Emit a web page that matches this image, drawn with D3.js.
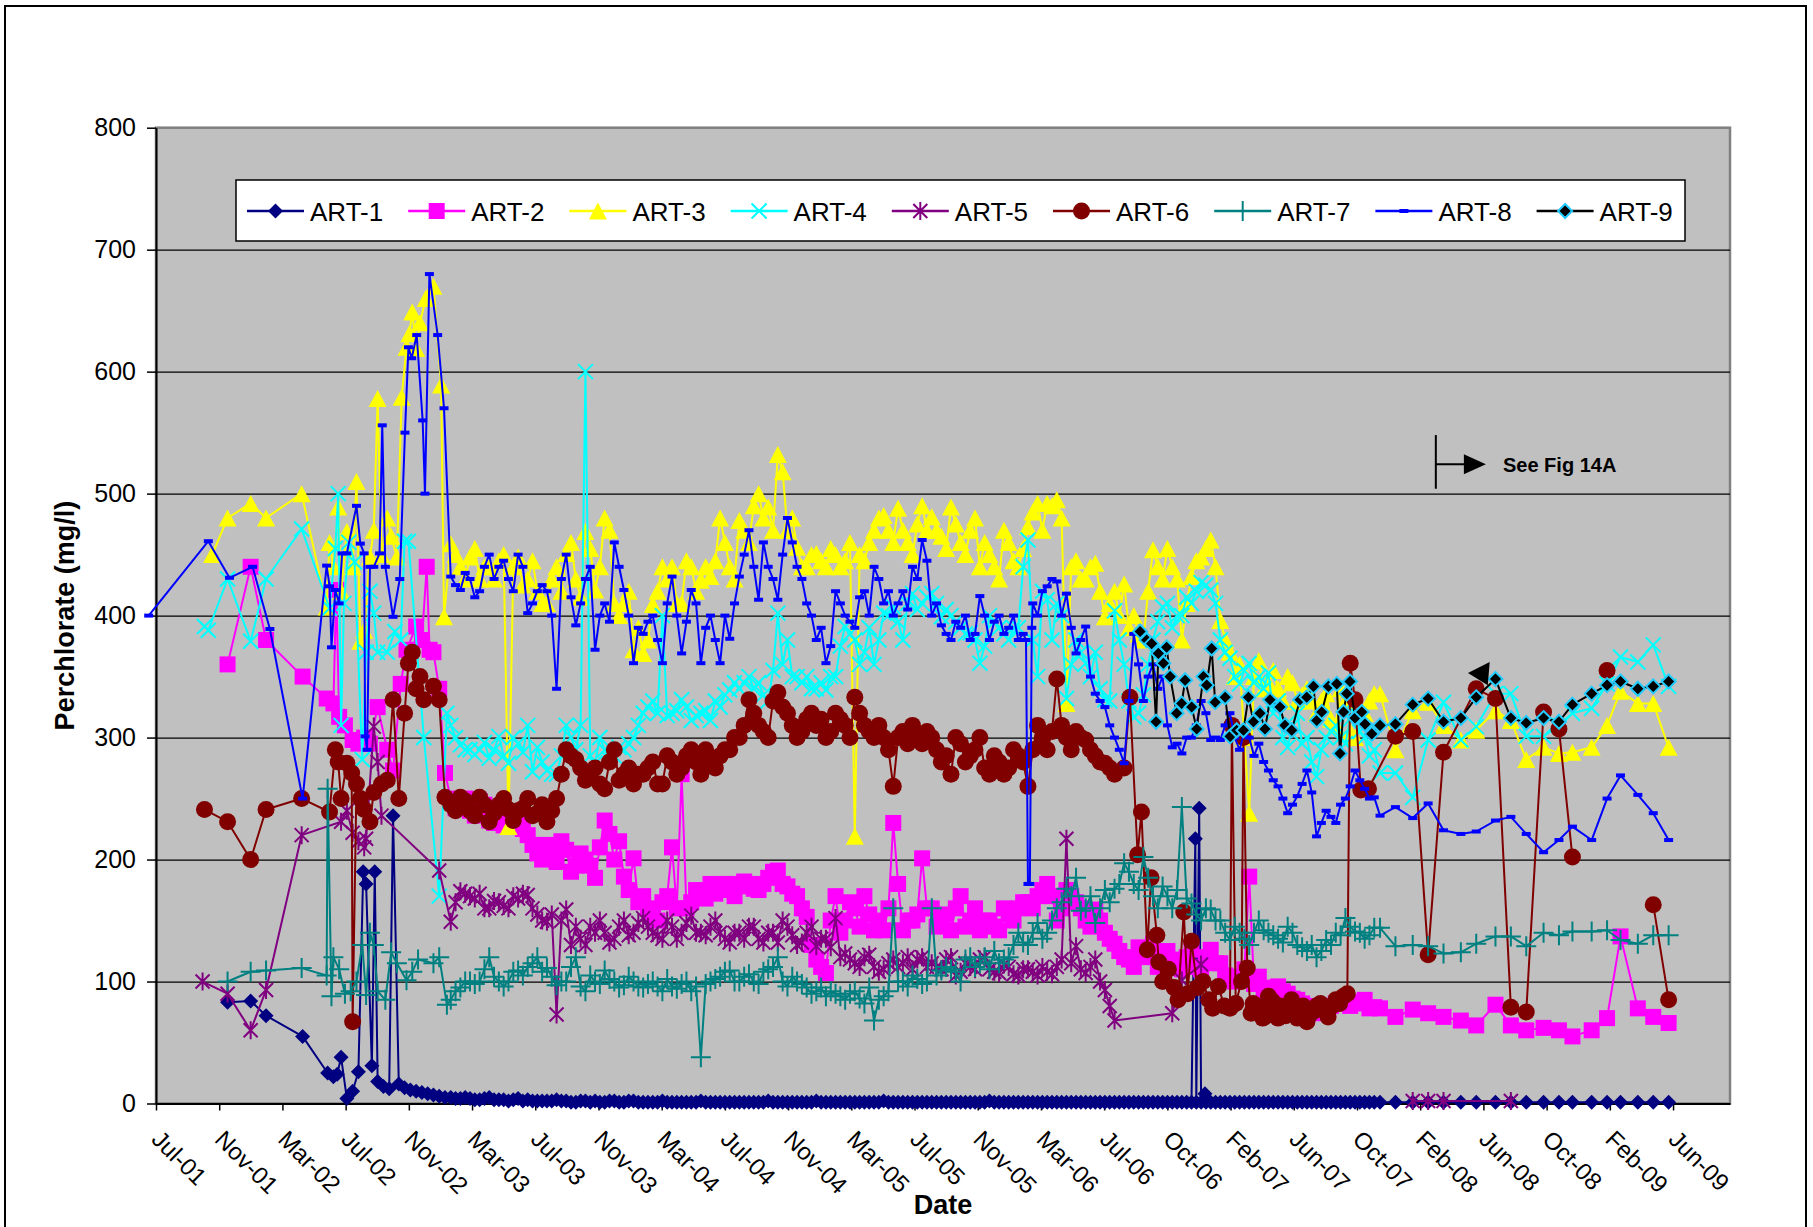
<!DOCTYPE html>
<html><head><meta charset="utf-8">
<script src="https://cdn.jsdelivr.net/npm/d3@7"></script>
<style>body{margin:0;background:#fff}svg{display:block}text{font-family:"Liberation Sans",Arial,sans-serif}</style>
</head><body>
<svg id="chart" width="1813" height="1227"></svg>
<script>
// ---------------- DATA ----------------
const seriesNames = ["ART-1","ART-2","ART-3","ART-4","ART-5","ART-6","ART-7","ART-8","ART-9"];
const xTickLabels = ["Jul-01","Nov-01","Mar-02","Jul-02","Nov-02","Mar-03","Jul-03","Nov-03","Mar-04","Jul-04","Nov-04","Mar-05","Jul-05","Nov-05","Mar-06","Jul-06","Oct-06","Feb-07","Jun-07","Oct-07","Feb-08","Jun-08","Oct-08","Feb-09","Jun-09"];
const yTickValues = [0,100,200,300,400,500,600,700,800];
const axisStartYear = 2001.568;   // axis minimum (late Jul 2001), decimal year
const axisEndYear = 2009.749;
const tickStepDays = 120;

// sampling dates of the dense monitoring period (decimal years), two interleaved rounds
const denseDates = [
2003.10,2003.15,2003.20,2003.25,2003.30,2003.35,2003.40,2003.45,2003.50,2003.55,
2003.60,2003.65,2003.70,2003.75,2003.80,2003.85,2003.90,2003.95,2004.00,2004.05,
2004.10,2004.15,2004.20,2004.25,2004.30,2004.35,2004.40,2004.45,2004.50,2004.55,
2004.60,2004.65,2004.70,2004.75,2004.80,2004.85,2004.90,2004.95,2005.00,2005.05,
2005.10,2005.15,2005.20,2005.25,2005.30,2005.35,2005.40,2005.45,2005.50,2005.55,
2005.60,2005.65,2005.70,2005.75,2005.80,2005.85,2005.90,2005.95,2006.00,2006.05,
2006.10,2006.15,2006.20,2006.25,2006.30,2006.35,2006.40,2006.45,2006.50,2006.55,
2006.60,2006.65,2006.70,2006.75,2006.80,2006.85,2006.90,2006.95,2007.00,2007.05,
2007.10,2007.15,2007.20,2007.25,2007.30,2007.35,2007.40,2007.45,2007.50,2007.55,
2007.60,2007.65,2007.70,2007.75,2007.80,2007.85,2007.90];
const denseDates2 = [
2003.125,2003.175,2003.225,2003.275,2003.325,2003.375,2003.425,2003.475,2003.525,2003.575,
2003.625,2003.675,2003.725,2003.775,2003.825,2003.875,2003.925,2003.975,2004.025,2004.075,
2004.125,2004.175,2004.225,2004.275,2004.325,2004.375,2004.425,2004.475,2004.525,2004.575,
2004.625,2004.675,2004.725,2004.775,2004.825,2004.875,2004.925,2004.975,2005.025,2005.075,
2005.125,2005.175,2005.225,2005.275,2005.325,2005.375,2005.425,2005.475,2005.525,2005.575,
2005.625,2005.675,2005.725,2005.775,2005.825,2005.875,2005.925,2005.975,2006.025,2006.075,
2006.125,2006.175,2006.225,2006.275,2006.325,2006.375,2006.425,2006.475,2006.525,2006.575,
2006.625,2006.675,2006.725,2006.775,2006.825,2006.875,2006.925,2006.975,2007.025,2007.075,
2007.125,2007.175,2007.225,2007.275,2007.325,2007.375,2007.425,2007.475,2007.525,2007.575,
2007.625,2007.675,2007.725,2007.775,2007.825,2007.875];
// later, monthly sampling dates
const lateDates = [2007.93,2008.01,2008.10,2008.18,2008.26,2008.35,2008.43,2008.53,2008.61,2008.69,2008.78,2008.86,2008.93,2009.03,2009.11,2009.18,2009.27,2009.35,2009.43];

// ART-1
const art1Early = [[2001.94,83],[2002.06,84],[2002.14,72],[2002.33,55],[2002.46,25],[2002.49,22],[2002.51,24],[2002.53,38],[2002.56,4],[2002.59,10],[2002.62,26],[2002.645,190],[2002.66,180],[2002.69,31],[2002.705,190],[2002.72,18],[2002.75,14],[2002.78,12],[2002.80,236],[2002.83,16],[2002.86,13],[2002.89,11],[2002.92,10],[2002.95,9],[2002.98,8],[2003.01,7],[2003.04,6],[2003.07,5]];
const art1Dense = [5,4,4,3,5,3,2,4,3,2, 2,3,2,1,2,2,1,2,1,2, 1,1,2,1,1,1,2,1,1,1, 1,1,1,2,1,1,1,1,2,1, 1,1,1,1,1,2,1,1,1,1, 1,1,1,1,1,1,2,1,1,1, 1,1,1,1,1,1,1,1,1,1, 1,1,1,1,1,1,1,1,1,1, 1,1,1,1,1,1,1,1,1,1, 1,1,1,1,1,1,1];
const art1Dense2 = [4,5,3,4,3,3,3,2,2,2, 2,2,1,2,1,1,2,1,2,1, 1,1,1,1,1,1,1,1,1,1, 1,1,1,1,1,1,1,1,1,1, 1,1,1,1,1,1,1,1,1,1, 1,1,1,1,1,1,1,1,1,1, 1,1,1,1,1,1,1,1,1,1, 1,1,1,1,1,1,1,1,1,1, 1,1,1,1,1,1,1,1,1,1, 1,1,1,1,1,1];
const art1Extra = [[2006.97,217],[2006.99,242],[2007.02,8]];
const art1Late = [1,1,1,1,1,1,1,1,1,1,1,1,1,1,1,1,1,1,1];

// ART-2
const art2Early = [[2001.94,360],[2002.06,440],[2002.14,380],[2002.33,350],[2002.455,332],[2002.49,328],[2002.505,421],[2002.52,317],[2002.55,310],[2002.59,298],[2002.62,295],[2002.65,300],[2002.68,295],[2002.72,325],[2002.77,290],[2002.80,273],[2002.84,344],[2002.87,372],[2002.92,391],[2002.95,380],[2002.975,440],[2002.99,372],[2003.01,370],[2003.04,340],[2003.07,271]];
const art2Dense = [250,245,240,248,232,230,232,238,220,205, 212,198,208,195,200,185,232,200,186,201, 170,153,165,210,270,165,170,180,175,180, 178,180,175,185,191,178,170,153,118,107, 170,150,160,170,142,142,230,142,150,201, 160,150,142,170,150,142,150,142,155,160, 165,170,180,150,175,165,150,159,140,131, 120,112,125,131,120,115,110,126,110,126, 115,101,104,186,104,95,96,90,85,80, 74,78,82,85,82,85,79];
const art2Dense2 = [242,250,236,245,230,228,236,225,212,200, 205,215,190,205,195,210,221,215,175,165, 160,150,170,160,160,175,168,172,180,170, 182,176,180,190,180,172,160,130,112,150, 140,165,145,155,150,160,180,150,155,160, 145,155,160,145,160,150,145,160,150,165, 160,175,170,160,170,160,145,150,135,125, 118,128,120,112,125,118,120,112,120,115, 105,100,110,98,92,90,92,86,82,78, 76,80,84,80,83,78];
const art2Extra = [];
const art2Late = [78,71,77,74,71,68,64,81,64,60,62,60,55,60,70,137,78,71,66];

// ART-3
const art3Early = [[2001.86,450],[2001.94,480],[2002.06,492],[2002.14,480],[2002.325,500],[2002.455,407],[2002.47,460],[2002.49,440],[2002.515,489],[2002.53,420],[2002.56,469],[2002.59,440],[2002.61,510],[2002.63,379],[2002.65,388],[2002.68,448],[2002.70,470],[2002.72,578],[2002.74,450],[2002.77,480],[2002.79,465],[2002.82,448],[2002.845,579],[2002.87,620],[2002.885,631],[2002.90,649],[2002.92,619],[2002.94,640],[2002.97,660],[2003.01,670],[2003.05,589],[2003.065,399]];
const art3Dense = [459,440,448,430,440,445,227,448,430,420, 410,440,451,430,469,421,480,410,410,372, 369,409,440,440,410,440,429,432,480,440, 478,460,500,489,532,470,456,440,451,440, 450,445,219,445,470,482,460,470,450,490, 481,465,489,460,470,440,450,430,460,440, 473,492,492,495,328,445,430,443,399,420, 426,400,380,454,430,440,380,432,448,462, 396,370,360,238,363,345,340,350,330,340, 320,336,310,330,300,320,336];
const art3Dense2 = [450,430,455,440,430,450,440,425,445,410, 430,420,460,415,455,440,470,400,420,390, 380,420,430,410,445,420,440,445,460,430, 470,490,480,470,518,480,440,450,445,455, 440,460,450,460,480,470,488,460,475,470, 470,455,475,450,480,460,440,470,445,455, 485,470,490,480,440,430,440,420,410,400, 390,385,420,440,455,430,410,445,455,440, 380,350,300,350,340,355,330,345,335,330, 330,315,340,305,320,330];
const art3Extra = [];
const art3Late = [336,290,322,329,310,298,306,322,314,282,292,287,288,292,310,338,328,328,292];

// ART-4
const art4Early = [[2001.82,391],[2001.84,388],[2001.94,430],[2002.06,379],[2002.14,430],[2002.325,471],[2002.47,406],[2002.50,455],[2002.515,500],[2002.53,310],[2002.545,410],[2002.57,460],[2002.60,444],[2002.64,282],[2002.66,370],[2002.68,420],[2002.70,402],[2002.72,370],[2002.77,370],[2002.81,387],[2002.84,380],[2002.86,461],[2002.88,461],[2002.96,300],[2003.04,170],[2003.08,320]];
const art4Dense = [310,294,290,290,283,301,279,295,310,292, 273,270,310,290,600,279,290,285,290,300, 320,330,400,320,331,314,320,314,325,339, 340,350,345,330,402,380,350,350,340,339, 350,391,380,370,360,402,407,380,418,410, 418,399,400,390,386,361,400,390,380,390, 462,350,413,410,332,380,361,370,331,404, 360,317,335,380,407,390,400,410,427,421, 380,365,344,361,350,353,330,292,320,300, 268,300,310,295,320,300,290];
const art4Dense2 = [300,290,286,296,290,285,300,288,272,280, 270,285,300,310,285,300,282,292,295,310, 325,320,318,322,325,318,322,330,335,345, 345,340,335,355,360,350,345,340,345,350, 375,385,360,390,380,400,395,410,405,415, 410,405,395,385,380,375,395,385,390,440, 380,420,380,400,360,370,350,340,330,380, 330,320,360,395,410,400,415,420,425,410, 370,350,355,345,340,320,300,310,295,280, 290,305,300,315,305,285];
const art4Extra = [];
const art4Late = [271,271,251,298,329,298,309,336,336,301,301,310,320,324,344,366,362,376,342];

// ART-5
const art5Early = [[2001.81,100],[2001.94,90],[2002.06,60],[2002.14,93],[2002.325,220],[2002.53,231],[2002.56,240],[2002.59,222],[2002.62,215],[2002.65,210],[2002.66,217],[2002.70,309],[2002.72,280],[2002.74,236],[2003.04,191]];
const art5Dense = [149,174,170,172,160,165,160,168,171,155, 149,73,159,145,130,140,140,135,150,140, 152,140,135,145,140,154,140,145,140,132, 140,145,135,140,132,145,130,140,129,135, 152,123,115,120,112,110,118,115,110,120, 115,110,120,108,112,118,110,107,112,105, 110,105,108,112,217,129,107,118,93,68, null,null,null,null,null,74,101,null,114,null, null,null,null,null,null,null,null,null,null,null, null,null,null,null,null,null,null];
const art5Dense2 = [165,172,168,160,166,162,170,172,160,150, 155,150,130,135,145,150,132,145,138,148, 145,138,150,135,148,140,138,150,135,140, 135,145,132,140,150,138,132,145,135,128, 120,118,112,122,108,115,112,120,118,112, 112,118,105,115,110,120,108,114,106,110, 108,112,106,118,115,110,112,100,80,null, null,null,null,null,null,null,null,null,null,null, null,null,null,null,null,null,null,null,null,null, null,null,null,null,null,null];
const art5Extra = [];
const art5Late = [null,null,2,2,2,null,null,null,2,null,null,null,null,null,null,null,null,null,null];
const art5Breaks = [2007.5];

// ART-6
const art6Early = [[2001.82,241],[2001.94,231],[2002.06,200],[2002.14,241],[2002.325,250],[2002.47,239],[2002.50,290],[2002.515,280],[2002.53,250],[2002.56,279],[2002.585,271],[2002.59,67],[2002.61,262],[2002.63,250],[2002.65,241],[2002.68,231],[2002.70,255],[2002.74,262],[2002.77,265],[2002.80,331],[2002.83,250],[2002.86,320],[2002.88,361],[2002.90,370],[2002.92,340],[2002.94,350],[2002.96,331],[2003.01,342],[2003.04,331],[2003.07,251]];
const art6Dense = [245,251,240,251,231,245,241,240,250,238, 231,250,290,282,265,275,258,290,270,262, 270,280,262,280,275,290,270,280,285,290, 300,331,310,300,337,320,300,315,310,300, 320,310,333,310,300,300,260,305,310,295, 300,280,270,295,285,300,270,280,275,285, 260,310,290,348,300,305,298,285,279,270, null,null,null,null,null,null,null,null,null,null, null,null,null,null,null,null,null,null,null,null, null,null,null,null,null,null,null];
const art6Dense2 = [240,248,236,245,238,250,232,242,236,245, 240,270,285,275,270,262,280,265,275,270, 275,262,285,270,285,280,290,275,290,300, 310,320,305,330,325,310,305,320,315,305, 315,300,320,305,310,290,300,295,300,305, 290,285,300,280,290,275,285,270,290,280, 290,300,305,310,290,300,290,280,275,null, null,null,null,null,null,null,null,null,null,null, null,null,null,null,null,null,null,null,null,null, null,null,null,null,null,null];
const art6Extra = [[2006.60,275],[2006.63,333],[2006.67,204],[2006.69,239],[2006.72,126],[2006.74,185],[2006.77,138],[2006.78,116],[2006.80,100],[2006.83,110],[2006.86,95],[2006.88,85],[2006.91,157],[2006.93,90],[2006.95,133],[2006.98,95],[2007.01,100],[2007.04,85],[2007.06,78],[2007.09,96],[2007.12,80],[2007.15,78],[2007.16,310],[2007.18,82],[2007.21,100],[2007.22,300],[2007.24,111],[2007.26,74],[2007.27,82],[2007.29,80],[2007.31,76],[2007.32,70],[2007.34,72],[2007.35,88],[2007.37,84],[2007.38,75],[2007.40,70],[2007.41,80],[2007.43,78],[2007.44,72],[2007.46,74],[2007.47,85],[2007.49,80],[2007.50,70],[2007.52,76],[2007.53,80],[2007.55,67],[2007.56,72],[2007.58,75],[2007.60,80],[2007.62,82],[2007.64,76],[2007.66,71],[2007.68,80],[2007.70,85],[2007.72,82],[2007.74,88],[2007.76,90],[2007.775,361],[2007.80,331],[2007.83,257],[2007.87,258]];
const art6Late = [null,301,305,122,288,null,340,332,79,75,321,307,202,null,355,null,null,163,85];
const art6Breaks = [2009.0,2009.25];

// ART-7
const art7Early = [[2001.94,100],[2002.06,108],[2002.14,109],[2002.325,111],[2002.455,105],[2002.46,258],[2002.48,88],[2002.49,120],[2002.52,110],[2002.55,90],[2002.58,92],[2002.61,100],[2002.64,130],[2002.66,89],[2002.68,140],[2002.70,130],[2002.72,92],[2002.76,85],[2002.79,124],[2002.82,115],[2002.87,101],[2002.90,108],[2002.93,118],[2003.01,115],[2003.04,120],[2003.08,81]];
const art7Dense = [85,95,100,100,120,100,100,109,112,120, 111,97,100,120,92,100,109,100,97,100, 95,100,92,96,98,92,38,100,104,109, 100,106,98,110,120,96,100,95,92,88, 90,85,92,82,68,88,160,100,105,98, 160,109,110,100,120,115,110,115,120,140, 130,148,140,160,176,185,160,148,175,176, 197,180,202,170,178,160,243,164,150,159, 150,134,140,130,150,140,135,145,130,125, 120,134,140,152,141,135,144];
const art7Dense2 = [92,100,98,110,104,96,108,105,115,108, 104,100,112,96,105,98,102,95,104,96, 98,96,102,94,100,96,98,102,108,100, 104,100,108,112,100,104,98,90,95,92, 88,90,86,95,85,92,100,96,102,100, 105,112,108,118,112,120,125,118,130,132, 140,135,150,165,170,158,170,160,165,180, 190,175,185,160,170,175,168,155,160,150, 140,145,135,140,142,138,132,140,128,130, 125,130,138,145,140,138];
const art7Extra = [];
const art7Late = [144,129,130,129,123,124,131,137,137,129,140,138,141,141,142,134,131,138,138];

// ART-8
const art8Early = [[2001.53,400],[2001.84,461],[2001.95,431],[2002.07,440],[2002.16,389],[2002.33,250],[2002.455,441],[2002.47,424],[2002.48,374],[2002.50,421],[2002.52,410],[2002.535,451],[2002.56,451],[2002.61,490],[2002.63,459],[2002.65,451],[2002.655,301],[2002.665,290],[2002.68,440],[2002.70,440],[2002.73,451],[2002.744,556],[2002.76,440],[2002.80,399],[2002.835,430],[2002.862,550],[2002.88,620],[2002.897,611],[2002.923,630],[2002.954,560],[2002.966,500],[2002.989,680],[2003.032,630],[2003.065,570]];
const art8Dense = [432,421,430,420,450,440,430,450,402,420, 420,340,450,392,430,372,410,460,421,361, 385,400,361,432,369,421,361,400,361,381, 432,470,413,440,413,480,440,410,380,361, 420,400,390,420,440,410,400,420,440,462, 400,392,380,390,380,416,380,400,390,380, null,400,424,428,418,369,391,336,325,300, 279,385,330,360,350,292,287,300,330,298, 298,320,290,300,295,273,260,238,252,273, 219,240,230,250,273,258,251];
const art8Dense2 = [425,435,415,440,430,445,420,440,410,425, 400,430,415,410,440,400,395,440,400,390, 395,380,410,400,395,410,390,380,400,410, 450,440,460,430,450,460,430,400,390,375, 410,395,415,400,430,420,410,405,430,445, 410,385,395,400,385,400,395,385,400,385, 410,420,430,400,390,380,350,330,310,290, 330,360,350,340,310,295,300,310,320,300, 310,300,305,285,280,265,250,245,262,255, 230,235,245,260,265,250];
const art8Extra = [[2006.09,380],[2006.10,180],[2006.11,180],[2006.12,390]];
const art8Late = [236,243,234,246,224,221,223,232,235,221,206,216,227,216,250,269,253,238,216];

// ART-9
const art9Early = [[2006.683,387],[2006.717,380],[2006.743,377],[2006.766,313],[2006.778,369],[2006.804,361],[2006.821,374],[2006.839,350],[2006.873,320],[2006.899,328],[2006.917,347],[2006.951,325],[2006.977,307],[2007.012,350],[2007.029,343],[2007.055,373],[2007.073,329],[2007.125,333],[2007.151,301],[2007.185,306],[2007.22,306],[2007.246,333],[2007.272,313],[2007.306,320],[2007.332,307],[2007.358,331],[2007.41,325],[2007.436,310],[2007.471,306],[2007.514,331],[2007.549,333],[2007.584,342],[2007.601,314],[2007.627,321],[2007.662,342],[2007.705,344],[2007.722,287],[2007.74,321],[2007.757,336],[2007.774,346],[2007.80,316],[2007.835,321],[2007.852,311],[2007.887,303],[2007.93,310]];
const art9Dense = [];
const art9Dense2 = [];
const art9Extra = [];
const art9Late = [null,311,327,332,313,316,333,348,316,312,316,313,327,336,343,346,340,342,346];

// annotation ("See Fig 14A" marker) in data units
const annoText = "See Fig 14A";
const annoLineYear = 2008.22, annoLineLow = 504, annoLineHigh = 548, annoArrowValue = 524, annoArrowEnd = 2008.48;
const annoTextYear = 2008.569, annoTextValue = 518;
const leftArrow = [[2008.387,353],[2008.50,362],[2008.49,343]];

// ---------------- BUILD ----------------
function build(early, dense, dense2, extra, late){
  const pts = [];
  early.forEach(p => pts.push([p[0], p[1]]));
  dense.forEach((v,i) => { if (v != null) pts.push([denseDates[i], v]); });
  dense2.forEach((v,i) => { if (v != null) pts.push([denseDates2[i], v]); });
  extra.forEach(p => pts.push([p[0], p[1]]));
  late.forEach((v,i) => { if (v != null) pts.push([lateDates[i], v]); });
  pts.sort((a,b) => a[0]-b[0]);
  return pts;
}
function segments(pts, breaks){
  if (!breaks || !breaks.length) return [pts];
  const segs = [[]];
  pts.forEach((p,i) => {
    if (i > 0 && breaks.some(b => b > pts[i-1][0] && b < p[0])) segs.push([]);
    segs[segs.length-1].push(p);
  });
  return segs;
}
const raw = [
  build(art1Early, art1Dense, art1Dense2, art1Extra, art1Late),
  build(art2Early, art2Dense, art2Dense2, art2Extra, art2Late),
  build(art3Early, art3Dense, art3Dense2, art3Extra, art3Late),
  build(art4Early, art4Dense, art4Dense2, art4Extra, art4Late),
  build(art5Early, art5Dense, art5Dense2, art5Extra, art5Late),
  build(art6Early, art6Dense, art6Dense2, art6Extra, art6Late),
  build(art7Early, art7Dense, art7Dense2, art7Extra, art7Late),
  build(art8Early, art8Dense, art8Dense2, art8Extra, art8Late),
  build(art9Early, art9Dense, art9Dense2, art9Extra, art9Late)
];
const breaksBySeries = [null,null,null,null,art5Breaks,art6Breaks,null,null,null];

// ---------------- STYLE ----------------
const style = [
  {line:"#000080", marker:"diamond", fill:"#000080", stroke:"none"},
  {line:"#FF00FF", marker:"square", fill:"#FF00FF", stroke:"none"},
  {line:"#FFFF00", marker:"triangle", fill:"#FFFF00", stroke:"none"},
  {line:"#00FFFF", marker:"x", fill:"none", stroke:"#00FFFF"},
  {line:"#800080", marker:"star", fill:"none", stroke:"#800080"},
  {line:"#800000", marker:"circle", fill:"#800000", stroke:"none"},
  {line:"#008080", marker:"plus", fill:"none", stroke:"#008080"},
  {line:"#0000FF", marker:"dash", fill:"#0000FF", stroke:"none"},
  {line:"#000000", marker:"diamond9", fill:"#000000", stroke:"#22CCFF"}
];
const markerPath = {
  diamond: "M0,-7.5L7.5,0L0,7.5L-7.5,0Z",
  square: "M-8,-8H8V8H-8Z",
  triangle: "M0,-8.5L9,8.5L-9,8.5Z",
  x: "M-7.5,-7.5L7.5,7.5M-7.5,7.5L7.5,-7.5",
  star: "M-7,-7L7,7M-7,7L7,-7M0,-9V9",
  circle: "M-8.5,0A8.5,8.5 0 1,0 8.5,0A8.5,8.5 0 1,0 -8.5,0Z",
  plus: "M-10,0H10M0,-10V10",
  dash: "M-4.5,-2H4.5V2H-4.5Z",
  diamond9: "M0,-7L7,0L0,7L-7,0Z"
};

// ---------------- DRAW ----------------
const svg = d3.select("#chart");
const P = {left:156, right:1730, top:127.7, bottom:1103.5};
const x = d3.scaleLinear().domain([axisStartYear, axisEndYear]).range([P.left, P.right]);
const y = d3.scaleLinear().domain([0, 800]).range([P.bottom, P.top]);

// outer frame
svg.append("rect").attr("x",5).attr("y",6).attr("width",1801).attr("height",1240)
  .attr("fill","#fff").attr("stroke","#000").attr("stroke-width",2);

// plot area
svg.append("rect").attr("x",P.left).attr("y",P.top).attr("width",P.right-P.left).attr("height",P.bottom-P.top)
  .attr("fill","#C0C0C0").attr("stroke","#808080").attr("stroke-width",2.5);

// gridlines
svg.append("g").attr("transform",`translate(${P.left},0)`)
  .call(d3.axisLeft(y).tickValues(yTickValues.filter(v=>v>0&&v<800)).tickSize(-(P.right-P.left)).tickFormat(""))
  .call(g=>g.select(".domain").remove())
  .call(g=>g.selectAll("line").attr("stroke","#000").attr("stroke-width",1.2));

// y axis
svg.append("g").attr("transform",`translate(${P.left},0)`)
  .call(d3.axisLeft(y).tickValues(yTickValues).tickSize(9).tickSizeOuter(0).tickPadding(11))
  .call(g=>g.select(".domain").attr("stroke","#000").attr("stroke-width",2))
  .call(g=>g.selectAll("line").attr("stroke","#000").attr("stroke-width",1.5))
  .call(g=>g.selectAll("text").attr("font-size",25).attr("fill","#000").attr("font-family","Liberation Sans, Arial, sans-serif"));

// x axis
const tickYears = xTickLabels.map((_,i)=>axisStartYear + i*tickStepDays/365.25);
svg.append("g").attr("transform",`translate(0,${P.bottom})`)
  .call(d3.axisBottom(x).tickValues(tickYears).tickFormat((d,i)=>xTickLabels[i]).tickSize(7).tickSizeOuter(0))
  .call(g=>g.select(".domain").attr("stroke","#000").attr("stroke-width",2))
  .call(g=>g.selectAll("line").attr("stroke","#000").attr("stroke-width",1.5))
  .call(g=>g.selectAll("text").attr("font-size",24).attr("fill","#000")
      .attr("font-family","Liberation Sans, Arial, sans-serif")
      .attr("text-anchor","start").attr("y",0).attr("dy","0.72em")
      .attr("transform","translate(6,25) rotate(45)"));

// series
raw.forEach((pts, si) => {
  const st = style[si];
  const g = svg.append("g").attr("class","series s"+si);
  const line = d3.line().x(d=>x(d[0])).y(d=>y(d[1]));
  segments(pts, breaksBySeries[si]).forEach(seg => {
    g.append("path").attr("d", line(seg)).attr("fill","none").attr("stroke", st.line).attr("stroke-width", 2).attr("stroke-linejoin","round");
  });
  g.selectAll("path.m").data(pts).join("path").attr("class","m")
    .attr("d", markerPath[st.marker])
    .attr("transform", d=>`translate(${x(d[0])},${y(d[1])})`)
    .attr("fill", st.fill).attr("stroke", st.stroke).attr("stroke-width", 2);
});

// annotation
const ag = svg.append("g");
ag.append("line").attr("x1",x(annoLineYear)).attr("x2",x(annoLineYear)).attr("y1",y(annoLineLow)).attr("y2",y(annoLineHigh)).attr("stroke","#000").attr("stroke-width",2);
ag.append("line").attr("x1",x(annoLineYear)).attr("x2",x(annoArrowEnd)-18).attr("y1",y(annoArrowValue)).attr("y2",y(annoArrowValue)).attr("stroke","#000").attr("stroke-width",2);
const ax = x(annoArrowEnd), ay = y(annoArrowValue);
ag.append("path").attr("d",`M${ax},${ay}L${ax-22},${ay-10}L${ax-22},${ay+10}Z`).attr("fill","#000");
ag.append("text").attr("x",x(annoTextYear)).attr("y",y(annoTextValue)).attr("font-size",20).attr("font-weight","bold").attr("fill","#000").text(annoText);
ag.append("path").attr("d", "M"+leftArrow.map(p=>`${x(p[0])},${y(p[1])}`).join("L")+"Z").attr("fill","#000");

// legend
const lg = svg.append("g");
lg.append("rect").attr("x",236).attr("y",180).attr("width",1449).attr("height",61).attr("fill","#fff").attr("stroke","#000").attr("stroke-width",1.5);
seriesNames.forEach((name,i) => {
  const x0 = 247 + i*161.2, yy = 211, st = style[i];
  lg.append("line").attr("x1",x0).attr("x2",x0+57).attr("y1",yy).attr("y2",yy).attr("stroke",st.line).attr("stroke-width",2.5);
  lg.append("path").attr("d",markerPath[st.marker]).attr("transform",`translate(${x0+28.5},${yy})`).attr("fill",st.fill).attr("stroke",st.stroke).attr("stroke-width",2);
  lg.append("text").attr("x",x0+63).attr("y",yy+9.5).attr("font-size",26).attr("fill","#000").text(name);
});

// axis titles
svg.append("text").attr("transform",`translate(74,${(P.top+P.bottom)/2}) rotate(-90)`).attr("text-anchor","middle")
  .attr("font-size",27).attr("font-weight","bold").attr("fill","#000").text("Perchlorate (mg/l)");
svg.append("text").attr("x",(P.left+P.right)/2).attr("y",1214).attr("text-anchor","middle")
  .attr("font-size",27).attr("font-weight","bold").attr("fill","#000").text("Date");
</script>
</body></html>
